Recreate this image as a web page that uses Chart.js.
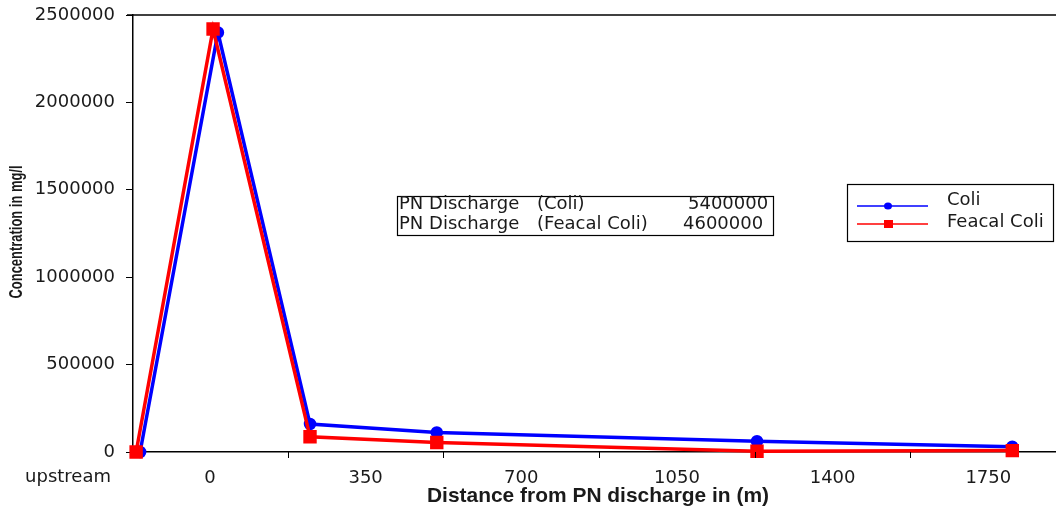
<!DOCTYPE html>
<html>
<head>
<meta charset="utf-8">
<script src="https://cdn.jsdelivr.net/npm/chart.js@4/dist/chart.umd.min.js"></script>
<style>
  html, body { margin: 0; padding: 0; background: #fff; }
  #wrap { width: 1056px; height: 513px; }
</style>
</head>
<body>
<div id="wrap"><canvas id="coliChart"></canvas></div>
<script>
// Coli / Feacal coli downstream of the PN discharge
const coliDist = [-157, 18, 225, 510, 1230, 1804];
const coliValues = [0, 2400000, 160000, 112000, 62000, 30000];
const fecalDist = [-166, 7, 225, 510, 1230, 1804];
const fecalValues = [0, 2420000, 87000, 54000, 4000, 8000];
const seriesNames = ["Coli", "Feacal Coli"];

const xTickLabels = [0, 350, 700, 1050, 1400, 1750];
const xTickMarks = [175, 525, 875, 1225, 1575];
const yTicks = [0, 500000, 1000000, 1500000, 2000000, 2500000];

const noteLabels = ["PN Discharge", "PN Discharge"];
const noteSeries = ["(Coli)", "(Feacal Coli)"];
const noteValues = ["5400000", "4600000"];

const FONT = "'DejaVu Sans', Arial, sans-serif";
const NARROW = "'Liberation Sans Narrow', 'Liberation Sans', Arial, sans-serif";
const BLUE = "#0000ff";
const RED = "#ff0000";

const ctx = document.getElementById("coliChart").getContext("2d");

const toPoints = (xs, ys) => xs.map((x, i) => ({ x: x, y: ys[i] }));

const extras = {
  id: "extras",
  afterDraw(chart) {
    const { ctx, chartArea, scales } = chart;
    const x = scales.x;
    ctx.save();
    ctx.strokeStyle = "#000";

    // top border
    ctx.lineWidth = 1.5;
    ctx.beginPath();
    ctx.moveTo(127, chartArea.top);
    ctx.lineTo(chart.width, chartArea.top);
    ctx.stroke();

    // x tick marks sit between the labels
    ctx.lineWidth = 1;
    xTickMarks.forEach((v) => {
      const px = Math.round(x.getPixelForValue(v)) + 0.5;
      ctx.beginPath();
      ctx.moveTo(px, chartArea.bottom);
      ctx.lineTo(px, chartArea.bottom + 6);
      ctx.stroke();
    });

    ctx.fillStyle = "#1a1a1a";
    ctx.textBaseline = "middle";

    // "upstream" label
    ctx.font = "18px " + FONT;
    ctx.textAlign = "center";
    ctx.fillText("upstream", 68, 477);

    // axis titles
    ctx.font = "bold 21px " + NARROW;
    ctx.fillText("Distance from PN discharge in (m)", 598, 496, 342);

    ctx.save();
    ctx.translate(17, 232);
    ctx.rotate(-Math.PI / 2);
    ctx.font = "bold 19px " + NARROW;
    ctx.fillText("Concentration in mg/l", 0, 0, 133);
    ctx.restore();

    // discharge note box
    ctx.lineWidth = 1.2;
    ctx.strokeRect(397.5, 196.5, 376, 39);
    ctx.textAlign = "left";
    ctx.font = "18px " + FONT;
    const rowY = [204, 224];
    rowY.forEach((yy, i) => {
      ctx.fillText(noteLabels[i], 399, yy, 127);
      ctx.fillText(noteSeries[i], 537, yy, 123);
      ctx.fillText(noteValues[i], i === 0 ? 688 : 683, yy, 84);
    });

    // legend box
    ctx.strokeRect(847.5, 184.5, 206, 57);
    const legendY = [206, 224];
    const legendTextY = [200, 222];
    const legendColors = [BLUE, RED];
    legendY.forEach((yy, i) => {
      ctx.strokeStyle = legendColors[i];
      ctx.fillStyle = legendColors[i];
      ctx.lineWidth = 1.5;
      ctx.beginPath();
      ctx.moveTo(857, yy);
      ctx.lineTo(928, yy);
      ctx.stroke();
      if (i === 0) {
        ctx.beginPath();
        ctx.ellipse(888, yy, 4, 3.5, 0, 0, Math.PI * 2);
        ctx.fill();
      } else {
        ctx.fillRect(884, yy - 4, 9, 8);
      }
      ctx.fillStyle = "#1a1a1a";
      ctx.fillText(seriesNames[i], 947, legendTextY[i]);
    });

    ctx.restore();
  },
};

new Chart(ctx, {
  type: "line",
  data: {
    datasets: [
      {
        label: seriesNames[1],
        data: toPoints(fecalDist, fecalValues),
        borderColor: RED,
        backgroundColor: RED,
        pointBackgroundColor: RED,
        pointBorderColor: RED,
        pointStyle: "rect",
        pointRadius: 7,
        borderWidth: 3.5,
        tension: 0,
        clip: false,
        order: 0,
      },
      {
        label: seriesNames[0],
        data: toPoints(coliDist, coliValues),
        borderColor: BLUE,
        backgroundColor: BLUE,
        pointBackgroundColor: BLUE,
        pointBorderColor: BLUE,
        pointStyle: "circle",
        pointRadius: 4.5,
        borderWidth: 3.5,
        tension: 0,
        clip: false,
        order: 1,
      },
    ],
  },
  options: {
    responsive: true,
    maintainAspectRatio: false,
    animation: false,
    layout: {
      autoPadding: false,
      padding: { top: 15, right: 1, left: 0, bottom: 0 },
    },
    plugins: {
      legend: { display: false },
      tooltip: { enabled: false },
    },
    scales: {
      x: {
        type: "linear",
        min: -173,
        max: 1900,
        afterBuildTicks: (s) => {
          s.ticks = xTickLabels.map((v) => ({ value: v }));
        },
        afterFit: (s) => {
          s.height = 61;
          s.paddingLeft = 0;
          s.paddingRight = 0;
        },
        grid: { display: false },
        border: { display: true, color: "#000", width: 1.5 },
        ticks: {
          font: { family: FONT, size: 18 },
          color: "#1a1a1a",
          padding: 8,
          maxRotation: 0,
          autoSkip: false,
          callback: (v) => String(v),
        },
      },
      y: {
        min: 0,
        max: 2500000,
        afterBuildTicks: (s) => {
          s.ticks = yTicks.map((v) => ({ value: v }));
        },
        afterFit: (s) => {
          s.width = 133;
          s.paddingTop = 0;
          s.paddingBottom = 0;
        },
        grid: {
          drawOnChartArea: false,
          drawTicks: true,
          tickLength: 7,
          tickColor: "#000",
          tickWidth: 1,
        },
        border: { display: true, color: "#000", width: 1.5 },
        ticks: {
          font: { family: FONT, size: 18 },
          color: "#1a1a1a",
          padding: 11,
          callback: (v) => String(v),
        },
      },
    },
  },
  plugins: [extras],
});
</script>
</body>
</html>
